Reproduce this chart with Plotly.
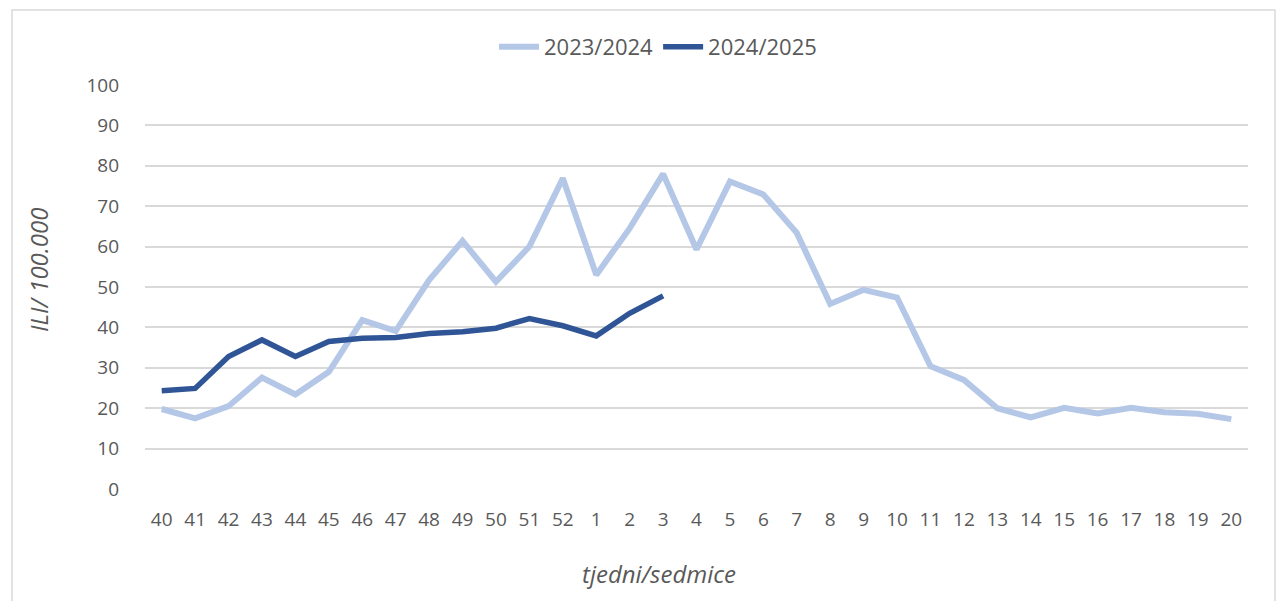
import plotly.graph_objects as go

weeks = ["40", "41", "42", "43", "44", "45", "46", "47", "48", "49", "50", "51", "52",
         "1", "2", "3", "4", "5", "6", "7", "8", "9", "10", "11", "12", "13", "14",
         "15", "16", "17", "18", "19", "20"]

season_2023_2024 = [19.8, 17.5, 20.5, 27.6, 23.4, 29.0, 41.8, 39.1, 51.7, 61.4, 51.3, 60.0, 76.9,
                    53.0, 64.5, 78.0, 59.3, 76.1, 72.9, 63.4, 45.8, 49.3, 47.4, 30.4, 27.0, 20.0,
                    17.7, 20.1, 18.7, 20.1, 19.0, 18.6, 17.3]

season_2024_2025 = [24.3, 24.9, 32.8, 36.9, 32.8, 36.5, 37.3, 37.5, 38.5, 38.9, 39.8, 42.2, 40.4,
                    37.9, 43.5, 47.8]

y_ticks = [0, 10, 20, 30, 40, 50, 60, 70, 80, 90, 100]

font_family = "Open Sans, Noto Sans, sans-serif"
text_color = "#595959"

fig = go.Figure()
fig.add_trace(go.Scatter(
    x=weeks, y=season_2023_2024, mode="lines", name="2023/2024",
    line=dict(color="#B4C7E7", width=6),
))
fig.add_trace(go.Scatter(
    x=weeks[:len(season_2024_2025)], y=season_2024_2025, mode="lines", name="2024/2025",
    line=dict(color="#2F5597", width=5.5),
))

W, H = 1276, 601
ml, mr, mt, mb = 145, 28, 85, 112
pw, ph = W - ml - mr, H - mt - mb

def px_x(px):
    return (px - ml) / pw

def px_y(py):
    return (H - mb - py) / ph

fig.add_shape(type="rect", xref="paper", yref="paper",
              x0=px_x(12), x1=px_x(1275), y0=px_y(610), y1=px_y(10),
              line=dict(color="#D9D9D9", width=1.5), fillcolor="rgba(0,0,0,0)", layer="below")

fig.add_annotation(text="<i>tjedni/sedmice</i>", xref="paper", yref="paper",
                   x=px_x(659), y=px_y(573), xanchor="center", yanchor="middle",
                   showarrow=False, font=dict(size=24, color=text_color))
fig.add_annotation(text="<i>ILI/ 100.000</i>", xref="paper", yref="paper",
                   x=px_x(38), y=px_y(270), xanchor="center", yanchor="middle", textangle=-90,
                   showarrow=False, font=dict(size=24, color=text_color))

fig.update_layout(
    width=W, height=H,
    margin=dict(l=ml, r=mr, t=mt, b=mb),
    paper_bgcolor="white", plot_bgcolor="white",
    font=dict(family=font_family, size=19, color=text_color),
    legend=dict(orientation="h", x=px_x(658), xanchor="center", y=px_y(47), yanchor="middle",
                font=dict(size=22, color=text_color), itemwidth=40, tracegroupgap=0,
                bgcolor="rgba(0,0,0,0)"),
    xaxis=dict(
        type="category", categoryorder="array", categoryarray=weeks,
        showgrid=False, showline=False, zeroline=False, ticks="",
        tickfont=dict(size=19, color=text_color), ticklabelstandoff=17,
        range=[-0.5, len(weeks) - 0.5],
    ),
    yaxis=dict(
        range=[0, 100], tickvals=y_ticks, showgrid=True, gridcolor="#D9D9D9", gridwidth=1.5,
        zeroline=False, showline=False, ticks="",
        tickfont=dict(size=19, color=text_color), ticklabelstandoff=25,
    ),
    showlegend=True,
)

fig.write_html("out.html", post_script="document.body.style.margin='0';",
               config={"displayModeBar": False})
